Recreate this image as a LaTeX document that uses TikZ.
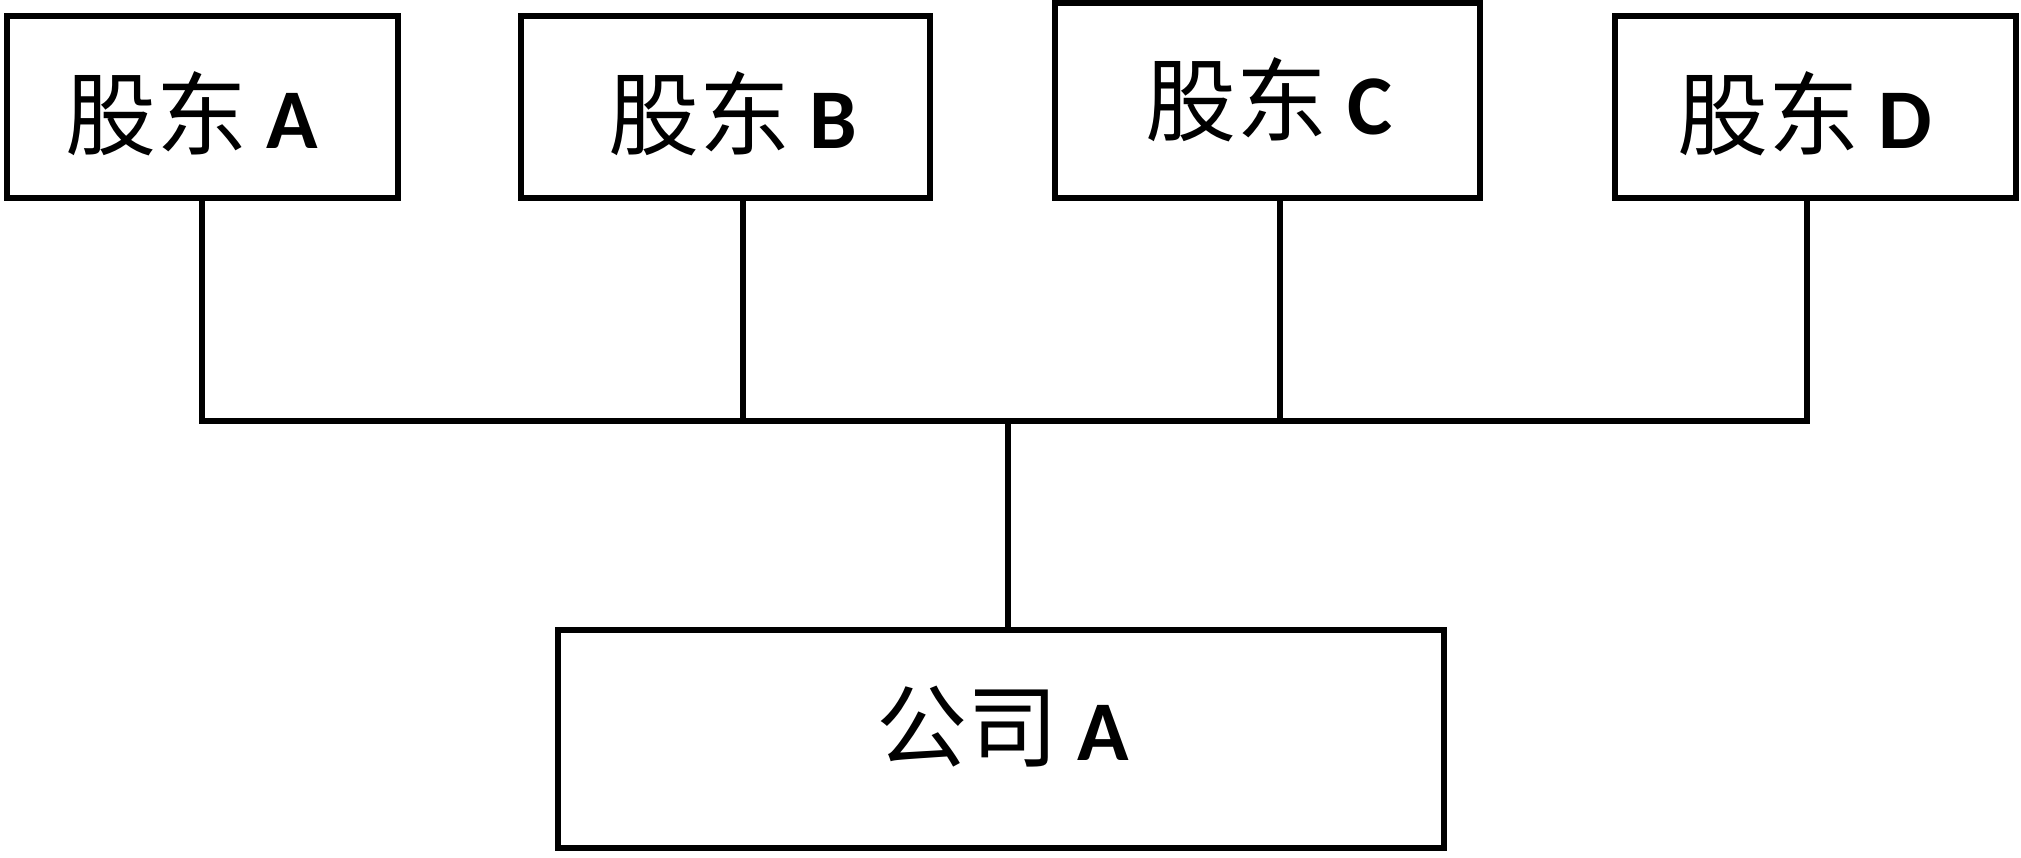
\documentclass[tikz,border=0pt]{standalone}
\usepackage{fontspec}
\setmainfont{Carlito}
\newfontfamily\cjk[Scale=1.07]{Noto Sans CJK SC}
\begin{document}
\begin{tikzpicture}[x=0.5pt,y=-0.5pt,
  box/.style={draw=black, line width=2.8pt, rectangle, outer sep=0pt, inner sep=0pt, fill=white},
  lbl/.style={inner sep=0pt, font=\fontsize{42.5}{50}\selectfont},
  conn/.style={draw=black, line width=2.8pt, line join=miter, line cap=butt}]
\useasboundingbox[fill=white] (0,0) rectangle (2021,857);
% boxes
\node[box, minimum width=195.5pt, minimum height=91pt] (A) at (202.5,107) {};
\node[box, minimum width=204.5pt, minimum height=91pt] (B) at (725.5,107) {};
\node[box, minimum width=212.5pt, minimum height=97.5pt] (C) at (1267.5,100.5) {};
\node[box, minimum width=200.5pt, minimum height=91pt] (D) at (1815.5,107) {};
\node[box, minimum width=443pt, minimum height=109pt] (Co) at (1001,739) {};
% labels
\node[lbl] (tA) at (192,114) {{\cjk 股东} \textbf{A}};
\node[lbl] (tB) at (733,114) {{\cjk 股东} \textbf{B}};
\node[lbl] (tC) at (1269,100) {{\cjk 股东} \textbf{C}};
\node[lbl] (tD) at (1805,114) {{\cjk 股东} \textbf{D}};
\node[lbl] (tCo) at (1003,727) {{\cjk 公司} \textbf{A}};
% bus coordinates
\coordinate (busA) at (202,421);
\coordinate (busB) at (743,421);
\coordinate (busC) at (1280,421);
\coordinate (busD) at (1807,421);
\coordinate (busM) at (1008,421);
% connectors
\draw[conn] (A.south -| busA) -- (busA) -- (busD) -- (D.south -| busD);
\draw[conn] (B.south -| busB) -- (busB);
\draw[conn] (C.south -| busC) -- (busC);
\draw[conn] (busM) -- (busM |- Co.north);
\end{tikzpicture}
\end{document}
